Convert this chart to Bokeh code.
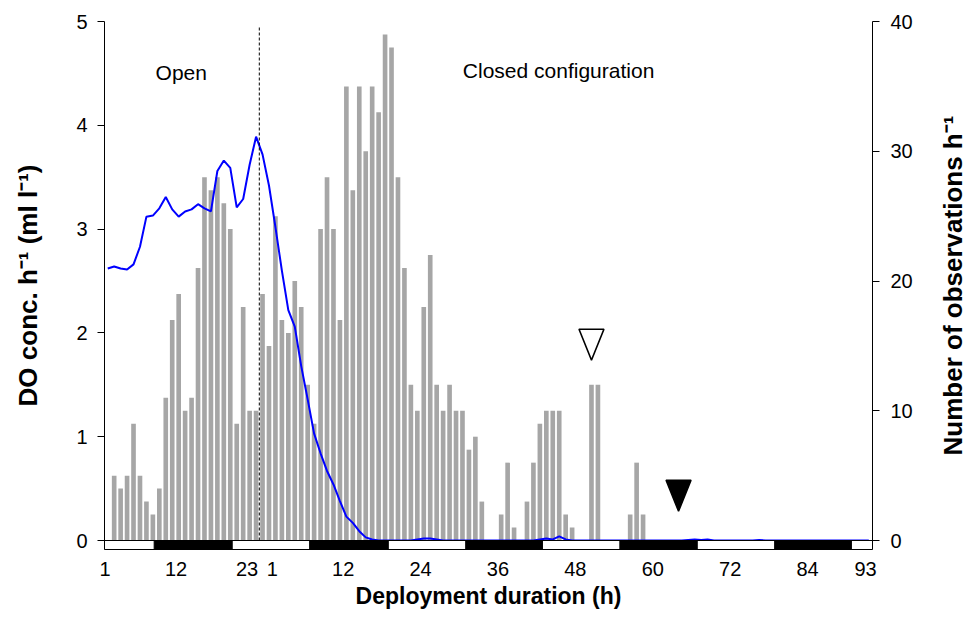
from bokeh.plotting import figure
from bokeh.layouts import row
from bokeh.models import (Range1d, LinearAxis, FixedTicker, CustomJSTickFormatter,
                          Label, Span)
from bokeh.embed import file_html
from bokeh.resources import INLINE

FONT = "Liberation Sans"

# ---- data -------------------------------------------------------------
# Open configuration, hours 0-23
open_hours = list(range(0, 24))
open_counts = [0, 5, 4, 5, 9, 5, 3, 2, 4, 11, 17, 19, 10, 11, 21, 28, 27, 28,
               26, 24, 9, 18, 10, 10]
open_do = [2.62, 2.64, 2.62, 2.61, 2.66, 2.83, 3.12, 3.13, 3.20, 3.31, 3.19,
           3.12, 3.17, 3.19, 3.24, 3.20, 3.17, 3.56, 3.66, 3.59, 3.21, 3.29,
           3.62, 3.89]

# Closed configuration, hours 1-95
closed_hours = list(range(1, 96))
closed_counts = [19, 15, 25, 17, 16, 20, 18, 12, 9, 24,
                 28, 24, 17, 35, 27, 35, 30, 35, 33, 39,
                 38, 28, 21, 12, 10, 18, 22, 12, 10, 12,
                 10, 10, 7, 8, 3, 0, 0, 2, 6, 1,
                 0, 3, 6, 9, 10, 10, 10, 2, 1, 0,
                 0, 12, 12, 0, 0, 0, 0, 2, 6, 2] + [0] * 35
closed_do = [3.72, 3.42, 3.02, 2.60, 2.22, 2.06, 1.68, 1.36, 1.03, 0.84,
             0.67, 0.54, 0.38, 0.23, 0.17, 0.09, 0.03, 0.01, 0.0, 0.0,
             0.0, 0.0, 0.0, 0.0, 0.01, 0.02, 0.02, 0.01, 0.0, 0.0,
             0.0, 0.0, 0.0, 0.0, 0.0, 0.0, 0.0, 0.0, 0.0, 0.0,
             0.0, 0.0, 0.0, 0.01, 0.02, 0.01, 0.04, 0.01, 0.0, 0.0,
             0.0, 0.0, 0.0, 0.0, 0.0, 0.0, 0.0, 0.0, 0.0, 0.0,
             0.0, 0.0, 0.0, 0.0, 0.0, 0.0, 0.005, 0.01, 0.005, 0.01,
             0.0, 0.0, 0.0, 0.0, 0.0, 0.0, 0.0, 0.005, 0.0, 0.0,
             0.0, 0.0, 0.0, 0.0, 0.0, 0.0, 0.0, 0.0, 0.0, 0.0,
             0.0, 0.0, 0.0, 0.0, 0.0]

# dark periods (light/dark bar), in elapsed hours on the combined time line
dark_start = [7.7, 31.8, 56.0, 79.9, 103.9]
dark_end = [19.8, 44.0, 67.9, 91.9, 115.8]

# event markers (closed-phase hour, observation level of the tip)
marker_hour = [52, 65.5]
marker_tip = [13.9, 2.25]
marker_fill = ["white", "black"]

# tick labels
open_tick_hours = [1, 12, 23]
closed_tick_hours = [1, 12, 24, 36, 48, 60, 72, 84, 93]

# ---- layout ------------------------------------------------------------
W, H = 971, 621
TITLE_W = 50                       # strip on the right holding the right-hand title
BL, BT, BB = 104, 21, 72
FRAME_RIGHT = 872
W_MAIN = W - TITLE_W
BR = W_MAIN - FRAME_RIGHT
X_END = 119.07
DO_MIN, DO_MAX = -0.0867, 5.0
OBS_MIN, OBS_MAX = -0.6936, 40.0

n_open = len(open_hours)
frame_w = W_MAIN - BL - BR
frame_h = H - BT - BB
px_x = X_END / frame_w                      # slot units per pixel
px_obs = (OBS_MAX - OBS_MIN) / frame_h      # observation units per pixel


def slot_open(h):
    return h


def slot_closed(h):
    return n_open - 1 + h


p = figure(width=W_MAIN, height=H, x_range=Range1d(0, X_END),
           y_range=Range1d(DO_MIN, DO_MAX), output_backend="svg",
           toolbar_location=None, min_border_left=BL, min_border_right=BR,
           min_border_top=BT, min_border_bottom=BB)
p.extra_y_ranges = {"obs": Range1d(OBS_MIN, OBS_MAX)}
p.outline_line_color = None
p.grid.visible = False
p.background_fill_color = "white"
p.border_fill_color = "white"

# bars: number of observations per hour
bar_x = [slot_open(h) + 0.5 for h in open_hours] + [slot_closed(h) + 0.5 for h in closed_hours]
bar_top = open_counts + closed_counts
p.vbar(x=bar_x, top=bar_top, width=0.72, bottom=0, y_range_name="obs",
       fill_color="#a6a6a6", line_color=None)

# DO concentration line
p.line(bar_x, open_do + closed_do, line_color="#0000ff", line_width=2)

# baseline at zero
p.add_layout(Span(location=0, dimension="width", line_color="black", line_width=1))

# boundary between configurations
split = n_open
p.segment(x0=[split], y0=[0], x1=[split], y1=[4.95], line_color="black",
          line_width=1, line_dash="3 2")

# light/dark bar below the baseline
p.quad(left=[0], right=[X_END], bottom=[DO_MIN], top=[0], fill_color="white",
       line_color="black", line_width=1)
p.quad(left=dark_start, right=dark_end, bottom=[DO_MIN] * len(dark_start),
       top=[0] * len(dark_start), fill_color="black", line_color="black", line_width=1)

# triangle markers
half_w, tri_h = 12.5 * px_x, 31 * px_obs
xs, ys = [], []
for h, tip in zip(marker_hour, marker_tip):
    cx = slot_closed(h) + 0.5
    xs.append([cx - half_w, cx + half_w, cx])
    ys.append([tip + tri_h, tip + tri_h, tip])
p.patches(xs, ys, fill_color=marker_fill, line_color="black", line_width=1.5,
          y_range_name="obs")

# phase labels
p.add_layout(Label(x=11.9, y=4.51, text="Open", text_font=FONT, text_font_size="21px",
                   text_color="black", text_align="center", text_baseline="middle"))
p.add_layout(Label(x=70.4, y=4.53, text="Closed configuration", text_font=FONT,
                   text_font_size="21px", text_color="black",
                   text_align="center", text_baseline="middle"))

# axes
tick_pos = [slot_open(h) - 0.9 for h in open_tick_hours] + \
           [slot_closed(h) + 2 for h in closed_tick_hours]
tick_text = [str(h) for h in open_tick_hours] + [str(h) for h in closed_tick_hours]

xa = p.xaxis[0]
xa.ticker = FixedTicker(ticks=tick_pos)
xa.formatter = CustomJSTickFormatter(args=dict(labels=tick_text), code="return labels[index];")
xa.major_tick_line_color = None
xa.major_tick_out = 0
xa.major_tick_in = 0
xa.minor_tick_line_color = None
xa.axis_line_color = "black"
xa.major_label_standoff = 12
xa.major_label_text_font = FONT
xa.major_label_text_font_size = "20px"
xa.major_label_text_color = "black"
xa.axis_label = "Deployment duration (h)"
xa.axis_label_text_font = FONT
xa.axis_label_text_font_size = "23px"
xa.axis_label_text_font_style = "bold"
xa.axis_label_text_color = "black"
xa.axis_label_standoff = 4

ya = p.yaxis[0]
ya.ticker = FixedTicker(ticks=[0, 1, 2, 3, 4, 5])
ya.major_tick_out = 7
ya.major_tick_in = 0
ya.minor_tick_line_color = None
ya.axis_line_color = "black"
ya.major_tick_line_color = "black"
ya.major_label_standoff = 10
ya.major_label_text_font = FONT
ya.major_label_text_font_size = "20px"
ya.major_label_text_color = "black"
ya.axis_label = "DO conc. h\u207b\u00b9 (ml l\u207b\u00b9)"
ya.axis_label_text_font = FONT
ya.axis_label_text_font_size = "26px"
ya.axis_label_text_font_style = "bold"
ya.axis_label_text_color = "black"
ya.axis_label_standoff = 30

ra = LinearAxis(y_range_name="obs", ticker=FixedTicker(ticks=[0, 10, 20, 30, 40]))
ra.major_tick_out = 7
ra.major_tick_in = 0
ra.minor_tick_line_color = None
ra.axis_line_color = "black"
ra.major_tick_line_color = "black"
ra.major_label_standoff = 11
ra.major_label_text_font = FONT
ra.major_label_text_font_size = "20px"
ra.major_label_text_color = "black"
p.add_layout(ra, "right")

# right-hand title: a narrow companion figure whose left axis carries the text
t = figure(width=TITLE_W, height=H, x_range=Range1d(0, 1), y_range=Range1d(0, 1),
           output_backend="svg", toolbar_location=None, min_border_left=TITLE_W - 4,
           min_border_right=0, min_border_top=BT, min_border_bottom=BB)
t.outline_line_color = None
t.grid.visible = False
t.xaxis.visible = False
t.background_fill_color = "white"
t.border_fill_color = "white"
ta = t.yaxis[0]
ta.ticker = FixedTicker(ticks=[])
ta.major_tick_out = 0
ta.major_tick_in = 0
ta.minor_tick_line_color = None
ta.major_label_text_font_size = "0px"
ta.axis_line_color = None
ta.axis_label = "Number of observations h\u207b\u00b9"
ta.axis_label_text_font = FONT
ta.axis_label_text_font_size = "26px"
ta.axis_label_text_font_style = "bold"
ta.axis_label_text_color = "black"
ta.axis_label_standoff = 0

layout = row(p, t, spacing=0)
open("out.html", "w").write(file_html(layout, INLINE))
